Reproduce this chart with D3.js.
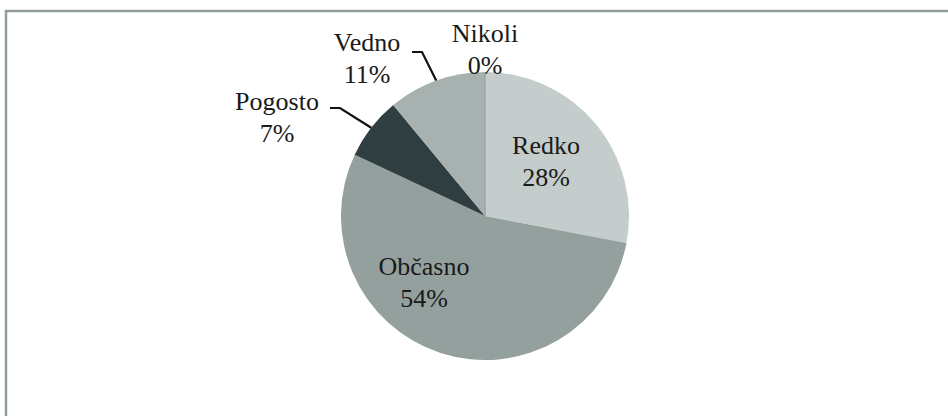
<!DOCTYPE html>
<html>
<head>
<meta charset="utf-8">
<script src="https://cdn.jsdelivr.net/npm/d3@7"></script>
<style>
  html, body { margin: 0; padding: 0; background: #fff; }
  .lbl { font-family: 'Liberation Serif', Tinos, 'Times New Roman', Times, 'DejaVu Serif', serif; }
</style>
</head>
<body>
<div id="chart"></div>
<script>
const WIDTH = 948
const HEIGHT = 416
const CX = 485
const CY = 216
const RADIUS = 144

// données
const CATEGORIES = ['Nikoli', 'Redko', 'Občasno', 'Pogosto', 'Vedno']
const VALUES = [0, 28, 54, 7, 11]
const LABELS = ['0%', '28%', '54%', '7%', '11%']
const COLORS = ['#9aa6a4', '#c5cdcc', '#94a09e', '#2f3e41', '#a7b2b0']

const svg = d3.select('#chart').append('svg')
    .attr('width', WIDTH).attr('height', HEIGHT)

// cadre
svg.append('path')
    .attr('d', `M6,${HEIGHT} V11 H${WIDTH}`)
    .attr('fill', 'none')
    .attr('stroke', '#909d9a')
    .attr('stroke-width', 2.5)

const table = CATEGORIES.map((c, i) => ({ name: c, value: VALUES[i], label: LABELS[i], color: COLORS[i] }))

const pie = d3.pie().sort(null).value(d => d.value)
const arc = d3.arc().innerRadius(0).outerRadius(RADIUS)
const arcs = pie(table)

const g = svg.append('g').attr('transform', `translate(${CX}, ${CY})`)

g.selectAll('path')
    .data(arcs)
    .enter()
    .append('path')
    .attr('d', arc)
    .attr('fill', d => d.data.color)

// ligne fine pour Nikoli (0%)
g.append('line')
    .attr('x1', 0).attr('y1', 0).attr('x2', 0).attr('y2', -RADIUS)
    .attr('stroke', '#9aa6a4').attr('stroke-width', 1.5)

// positions des étiquettes (dx, dy depuis le centre) et lignes de rappel
const LABEL_POS = {
    'Nikoli': { x: 0, y: -174, leader: null },
    'Redko': { x: 61, y: -62, leader: null },
    'Občasno': { x: -61, y: 59, leader: null },
    'Pogosto': { x: -208, y: -106, leader: [-155, -108, -145, -108] },
    'Vedno': { x: -118, y: -165, leader: [-73, -164, -63, -164] }
}

const labels = g.append('g')

arcs.forEach(d => {
    const p = LABEL_POS[d.data.name]
    if (p.leader) {
        const c = arc.centroid(d)
        const ang = Math.atan2(c[1], c[0])
        const ex = Math.cos(ang) * RADIUS
        const ey = Math.sin(ang) * RADIUS
        labels.append('polyline')
            .attr('points', `${p.leader[0]},${p.leader[1]} ${p.leader[2]},${p.leader[3]} ${ex},${ey}`)
            .attr('fill', 'none')
            .attr('stroke', '#111')
            .attr('stroke-width', 2.2)
    }
    const t = labels.append('text')
        .attr('class', 'lbl')
        .attr('text-anchor', 'middle')
        .attr('font-size', 26)
        .attr('fill', '#1a1a1a')
    t.append('tspan').attr('x', p.x).attr('y', p.y).text(d.data.name)
    t.append('tspan').attr('x', p.x).attr('y', p.y + 32).text(d.data.label)
})
</script>
</body>
</html>
